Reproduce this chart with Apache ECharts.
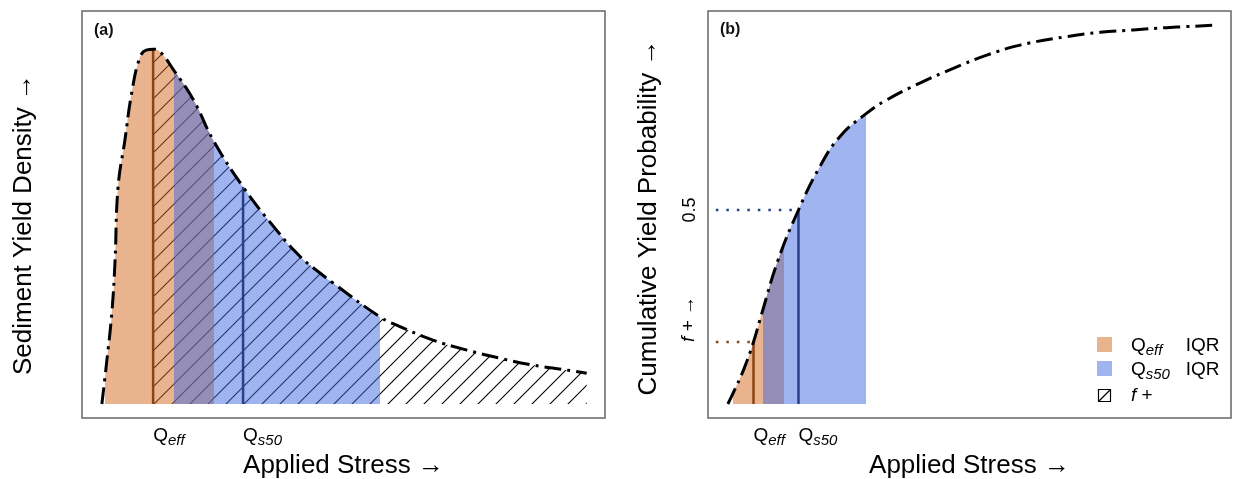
<!DOCTYPE html>
<html>
<head>
<meta charset="utf-8">
<script src="https://cdn.jsdelivr.net/npm/echarts@6/dist/echarts.min.js"></script>
<style>
  html, body { margin: 0; padding: 0; background: #fff; }
  #chart { width: 1233px; height: 479px; }
</style>
</head>
<body>
<div id="chart"></div>
<script>
// ---- Panel (a): sediment yield density vs applied stress ----
const stressA  = [0.38, 0.47, 0.57, 0.63, 0.69, 0.82, 0.95, 1.11, 1.24, 1.36, 1.49, 1.75, 2.13, 2.51, 3.08, 3.72, 4.17, 4.55, 4.80, 5.70, 6.08, 6.71, 7.36, 8.00, 8.62, 9.27, 9.65];
const densityA = [0.000, 0.115, 0.255, 0.395, 0.608, 0.739, 0.871, 0.972, 0.992, 0.994, 0.987, 0.936, 0.852, 0.739, 0.608, 0.487, 0.413, 0.367, 0.339, 0.244, 0.217, 0.179, 0.151, 0.128, 0.109, 0.095, 0.086];
const qEffA = 1.36;            // effective stress (mode of the density)
const qS50A = 3.08;            // median-yield stress
const effIqrA = [0.44, 2.53];  // Q_eff interquartile range
const s50IqrA = [1.75, 5.70];  // Q_s50 interquartile range

// ---- Panel (b): cumulative yield probability vs applied stress ----
const stressB  = [0.38, 0.48, 0.68, 0.87, 1.03, 1.34, 1.73, 2.14, 2.52, 3.03, 3.42, 4.05, 4.69, 5.33, 5.97, 6.86, 7.50, 8.13, 8.77, 9.66];
const cumProbB = [0.000, 0.028, 0.088, 0.160, 0.234, 0.371, 0.500, 0.612, 0.689, 0.749, 0.784, 0.827, 0.865, 0.899, 0.925, 0.947, 0.958, 0.964, 0.970, 0.976];
const qEffB = 0.87;
const qS50B = 1.73;
const fPlus = 0.16;            // cumulative probability at Q_eff
const medianProb = 0.5;
const effIqrB = [0.48, 1.46];
const s50IqrB = [1.06, 3.03];
const guideStart = 0.15;       // left end of the dotted guide lines

// tick labels (rich-text markup for the subscripts)
const xTickLabels = ['{q|Q}{s|eff}', '{q|Q}{s|s50}'];
const yTickLabelsB = ['0.5', '{fi|f}{t| + →}'];

const FONT = '"Liberation Sans", Arial, Helvetica, sans-serif';
const ORANGE = 'rgba(210,105,30,0.5)';
const BLUE = 'rgba(65,105,225,0.5)';
const BROWN = '#8B4513';
const NAVY = '#27408B';
const SMOOTH = 0.45;

const RICH = {
  q:  { fontSize: 19, lineHeight: 20, verticalAlign: 'top', fontFamily: FONT, color: '#000' },
  s:  { fontSize: 15, lineHeight: 22, verticalAlign: 'bottom', fontStyle: 'italic', fontFamily: FONT, color: '#000' },
  ls: { fontSize: 15, lineHeight: 22, verticalAlign: 'bottom', fontStyle: 'italic', fontFamily: FONT, color: '#000', width: 40 },
  t:  { fontSize: 19, lineHeight: 20, verticalAlign: 'top', fontFamily: FONT, color: '#000' },
  fi: { fontSize: 19, lineHeight: 20, verticalAlign: 'top', fontStyle: 'italic', fontFamily: FONT, color: '#000' }
};

const pairs = (xs, ys) => xs.map((x, i) => [x, ys[i]]);
const valueAt = (xs, ys, x) => ys[xs.indexOf(x)];

// diagonal hatch tile for the f+ region
function hatchTile(step) {
  const c = document.createElement('canvas');
  c.width = c.height = step;
  const g = c.getContext('2d');
  g.strokeStyle = '#000';
  g.lineWidth = 1.1;
  g.beginPath();
  g.moveTo(-1, step + 1); g.lineTo(step + 1, -1);
  g.moveTo(-1, 1); g.lineTo(1, -1);
  g.moveTo(step - 1, step + 1); g.lineTo(step + 1, step - 1);
  g.stroke();
  return c;
}

function base(xi, yi, data, extra) {
  return Object.assign({
    type: 'line', xAxisIndex: xi, yAxisIndex: yi, data: data,
    smooth: SMOOTH, showSymbol: false, symbol: 'none',
    silent: true, animation: false
  }, extra);
}
const fillOnly = { lineStyle: { width: 0, opacity: 0 }, areaStyle: { opacity: 1 } };
const curveStroke = { lineStyle: { color: '#000', width: 3, type: [17, 6, 3, 6], cap: 'butt' }, z: 10 };
const vline = (color) => ({ smooth: false, lineStyle: { color: color, width: 2.5 }, z: 8 });
const dotted = (color) => ({ smooth: false, lineStyle: { color: color, width: 2.5, type: [2.5, 8], cap: 'butt' }, z: 8 });

const curveA = pairs(stressA, densityA);
const curveB = pairs(stressB, cumProbB);
const hatchA = curveA.filter(p => p[0] >= qEffA);

const series = [
  // 0: f+ hatching (a)
  base(0, 0, hatchA, { lineStyle: { width: 0, opacity: 0 }, areaStyle: { color: { image: hatchTile(18), repeat: 'repeat' }, opacity: 1 } }),
  // 1, 2: IQR bands (a)
  base(0, 0, curveA, Object.assign({ name: 'Q_eff IQR' }, fillOnly)),
  base(0, 0, curveA, Object.assign({ name: 'Q_s50 IQR' }, fillOnly)),
  // 3, 4: Q_eff and Q_s50 markers (a)
  base(0, 0, [[qEffA, 0], [qEffA, valueAt(stressA, densityA, qEffA)]], vline(BROWN)),
  base(0, 0, [[qS50A, 0], [qS50A, valueAt(stressA, densityA, qS50A)]], vline(NAVY)),
  // 5: density curve
  base(0, 0, curveA, curveStroke),
  // 6, 7: IQR bands (b)
  base(1, 1, curveB, Object.assign({ name: 'Q_eff IQR' }, fillOnly)),
  base(1, 1, curveB, Object.assign({ name: 'Q_s50 IQR' }, fillOnly)),
  // 8, 9: markers (b)
  base(1, 1, [[qEffB, 0], [qEffB, valueAt(stressB, cumProbB, qEffB)]], vline(BROWN)),
  base(1, 1, [[qS50B, 0], [qS50B, valueAt(stressB, cumProbB, qS50B)]], vline(NAVY)),
  // 10, 11: dotted guides to the probability axis
  base(1, 1, [[guideStart, medianProb], [qS50B, medianProb]], dotted(NAVY)),
  base(1, 1, [[guideStart, fPlus], [qEffB, fPlus]], dotted(BROWN)),
  // 12: cumulative curve
  base(1, 1, curveB, curveStroke)
];

function band(seriesIndex, range, color) {
  return {
    type: 'piecewise', show: false, seriesIndex: seriesIndex, dimension: 0,
    pieces: [{ gte: range[0], lte: range[1], color: color }],
    outOfRange: { color: 'rgba(0,0,0,0)' }
  };
}

const noAxis = { axisLine: { show: false }, axisTick: { show: false }, splitLine: { show: false } };
const titleStyle = { fontSize: 26, color: '#000', fontFamily: FONT };

function xAxisFor(gridIndex, ticks) {
  return Object.assign({
    type: 'value', gridIndex: gridIndex, min: 0, max: 10,
    axisLabel: {
      customValues: ticks, formatter: v => xTickLabels[ticks.indexOf(v)],
      align: 'left', verticalAlign: 'top', margin: 8, rich: RICH, color: '#000', fontFamily: FONT
    },
    name: 'Applied Stress →', nameLocation: 'middle', nameGap: 28, nameTextStyle: titleStyle
  }, noAxis);
}

const yMinA = -0.0392, yMaxA = 1.1008;
const yMinB = -0.0361, yMaxB = 1.0129;

const option = {
  backgroundColor: '#fff',
  animation: false,
  textStyle: { fontFamily: FONT },
  title: [
    { text: '(a)', left: 94, top: 23, padding: 0, textStyle: { fontSize: 16, fontWeight: 'bold', color: '#111', fontFamily: FONT } },
    { text: '(b)', left: 720, top: 22, padding: 0, textStyle: { fontSize: 16, fontWeight: 'bold', color: '#111', fontFamily: FONT } }
  ],
  grid: [
    { left: 82, top: 11, width: 523, height: 407, show: true, borderColor: '#666', borderWidth: 1.5, backgroundColor: 'transparent', containLabel: false, outerBoundsMode: 'none' },
    { left: 708, top: 11, width: 523, height: 407, show: true, borderColor: '#666', borderWidth: 1.5, backgroundColor: 'transparent', containLabel: false, outerBoundsMode: 'none' }
  ],
  xAxis: [xAxisFor(0, [qEffA, qS50A]), xAxisFor(1, [qEffB, qS50B])],
  yAxis: [
    Object.assign({
      type: 'value', gridIndex: 0, min: yMinA, max: yMaxA, axisLabel: { show: false },
      name: 'Sediment Yield Density →', nameLocation: 'middle', nameRotate: 90, nameGap: 45,
      nameTextStyle: Object.assign({ padding: [0, 20, 0, 0] }, titleStyle)
    }, noAxis),
    Object.assign({
      type: 'value', gridIndex: 1, position: 'left', min: yMinB, max: yMaxB,
      axisLabel: { customValues: [medianProb], formatter: () => yTickLabelsB[0], rotate: 90, margin: 9, fontSize: 18, color: '#000', fontFamily: FONT },
      name: 'Cumulative Yield Probability →', nameLocation: 'middle', nameRotate: 90, nameGap: 46,
      nameTextStyle: Object.assign({ padding: [0, 6, 0, 0] }, titleStyle)
    }, noAxis),
    Object.assign({
      type: 'value', gridIndex: 1, position: 'left', offset: 0, min: yMinB, max: yMaxB,
      axisLabel: { customValues: [fPlus], formatter: () => yTickLabelsB[1], rotate: 90, align: 'left', margin: 9, rich: RICH, color: '#000', fontFamily: FONT }
    }, noAxis)
  ],
  visualMap: [
    band(1, effIqrA, ORANGE),
    band(2, s50IqrA, BLUE),
    band(6, effIqrB, ORANGE),
    band(7, s50IqrB, BLUE)
  ],
  graphic: [
    { type: 'rect', shape: { x: 1097, y: 337, width: 15, height: 15 }, style: { fill: ORANGE } },
    { type: 'rect', shape: { x: 1097, y: 361, width: 15, height: 15 }, style: { fill: BLUE } },
    { type: 'rect', shape: { x: 1098.5, y: 389.5, width: 12, height: 12 }, style: { fill: '#fff', stroke: '#000', lineWidth: 1.2 } },
    { type: 'line', shape: { x1: 1098.5, y1: 401.5, x2: 1110.5, y2: 389.5 }, style: { stroke: '#000', lineWidth: 1.2 } },
    { type: 'text', x: 1131, y: 347, style: { text: '{q|Q}{ls|eff}{t|IQR}', rich: RICH, fill: '#000', verticalAlign: 'middle' } },
    { type: 'text', x: 1131, y: 371, style: { text: '{q|Q}{ls|s50}{t|IQR}', rich: RICH, fill: '#000', verticalAlign: 'middle' } },
    { type: 'text', x: 1131, y: 396, style: { text: '{fi|f}{t| +}', rich: RICH, fill: '#000', verticalAlign: 'middle' } }
  ],
  series: series
};

const chart = echarts.init(document.getElementById('chart'), null, { renderer: 'canvas' });
chart.setOption(option);
</script>
</body>
</html>
